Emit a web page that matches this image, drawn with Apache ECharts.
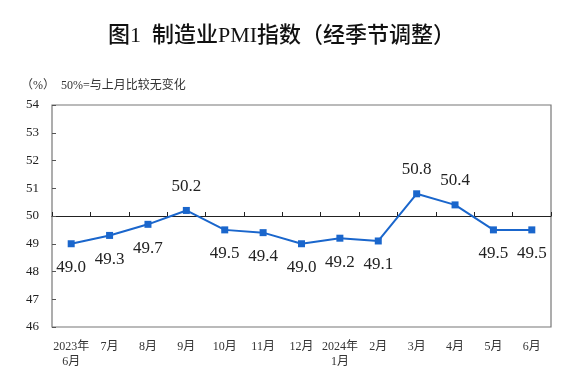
<!DOCTYPE html>
<html><head><meta charset="utf-8">
<script src="https://cdn.jsdelivr.net/npm/echarts@6/dist/echarts.min.js"></script>
<style>html,body{margin:0;padding:0;background:#fff}#c{width:563px;height:383px}</style>
</head><body><div id="c"></div>
<script>
var categories = ['2023年\n6月','7月','8月','9月','10月','11月','12月','2024年\n1月','2月','3月','4月','5月','6月'];
var pmiValues = [49.0, 49.3, 49.7, 50.2, 49.5, 49.4, 49.0, 49.2, 49.1, 50.8, 50.4, 49.5, 49.5];
var labelPositions = ['bottom','bottom','bottom','top','bottom','bottom','bottom','bottom','bottom','top','top','bottom','bottom'];
var yMin = 46, yMax = 54, yStep = 1, baseLine = 50;

var chart = echarts.init(document.getElementById('c'), null, {renderer:'canvas'});
var grid = {left:52, right:12, top:105, bottom:56};
var plotH = 383 - grid.top - grid.bottom;
var baseOffset = -plotH * (baseLine - yMin) / (yMax - yMin);

var serif = '"Liberation Serif","Noto Sans CJK SC",serif';
chart.setOption({
  animation:false,
  title:[{
    text:'图1  制造业PMI指数（经季节调整）',
    left:'center', top:20,
    textStyle:{fontFamily:serif, fontSize:22, fontWeight:500, color:'#111'}
  },{
    text:'（%）  50%=与上月比较无变化',
    left:16, top:75,
    textStyle:{fontFamily:serif, fontSize:12, fontWeight:'normal', color:'#333'}
  }],
  grid:Object.assign({show:true, borderColor:'#777', borderWidth:1.2, containLabel:false}, grid),
  xAxis:[{
    type:'category', data:categories, boundaryGap:true, position:'bottom',
    axisLine:{show:false}, axisTick:{show:false}, splitLine:{show:false},
    axisLabel:{interval:0, margin:12, fontFamily:serif, fontSize:12, color:'#333', lineHeight:15}
  },{
    type:'category', data:categories, boundaryGap:true, position:'bottom', offset:baseOffset,
    axisLine:{show:true, lineStyle:{color:'#222', width:1.2}},
    axisTick:{show:true, inside:true, length:4, interval:0, alignWithLabel:false, lineStyle:{color:'#222'}},
    axisLabel:{show:false}, splitLine:{show:false}
  }],
  yAxis:{
    type:'value', min:yMin, max:yMax, interval:yStep,
    axisLine:{show:false},
    axisTick:{show:true, inside:true, length:4, lineStyle:{color:'#555'}},
    splitLine:{show:false},
    axisLabel:{margin:13, fontFamily:serif, fontSize:13, color:'#222'}
  },
  series:[{
    type:'line', xAxisIndex:0, data:pmiValues.map(function(v,i){
      return {value:v, label:{position:labelPositions[i]}};
    }),
    symbol:'rect', symbolSize:7,
    lineStyle:{color:'#1a66cc', width:2},
    itemStyle:{color:'#1a66cc'},
    label:{show:true, distance:12, fontFamily:serif, fontSize:17, color:'#222',
      formatter:function(p){return p.value.toFixed(1);}}
  }]
});
</script></body></html>
